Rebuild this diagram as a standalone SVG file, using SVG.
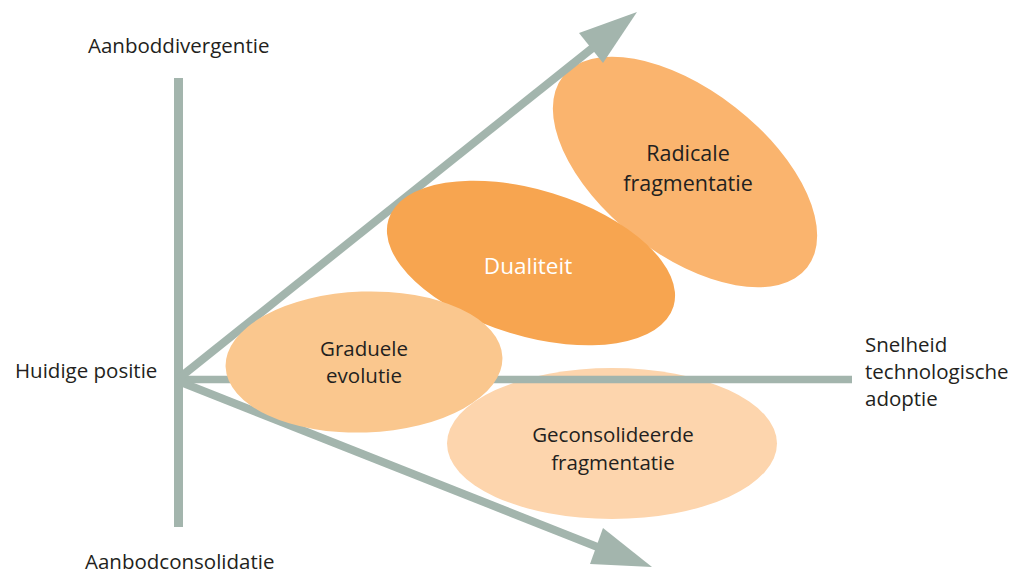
<svg xmlns="http://www.w3.org/2000/svg" width="1019" height="573" viewBox="0 0 1019 573">
<style>
.t{font-family:"Open Sans","Liberation Sans",sans-serif;font-size:20.5px;font-weight:500;fill:#231F20}
.c{text-anchor:middle}
.ax{stroke:#A3B5AD;fill:none}
.ah{fill:#A3B5AD}
</style>
<rect width="1019" height="573" fill="#FFFFFF"/>
<g id="node-radicale">
<ellipse cx="685" cy="172" rx="155" ry="82" transform="rotate(38 685 172)" fill="#FAB46E"/>
</g>
<g id="node-geconsolideerde">
<ellipse cx="612" cy="443.5" rx="165" ry="75.5" fill="#FDD5AD"/>
</g>
<g id="connectors">
<line class="ax" x1="178.5" y1="78" x2="178.5" y2="527" stroke-width="9"/>
<line class="ax" x1="178" y1="379.5" x2="852" y2="379.5" stroke-width="7.5"/>
<line class="ax" x1="178" y1="379" x2="595" y2="46" stroke-width="8"/>
<polygon class="ah" points="637,12 579,33 603,63"/>
<line class="ax" x1="178" y1="381" x2="600" y2="548" stroke-width="8"/>
<polygon class="ah" points="652,567 603,528 590,564"/>
</g>
<g id="node-dualiteit">
<ellipse cx="531" cy="263" rx="149" ry="73" transform="rotate(17 531 263)" fill="#F7A550"/>
<text class="t c" x="528" y="274" style="font-size:22.5px;fill:#FFFFFF">Dualiteit</text>
</g>
<g id="node-graduele">
<ellipse cx="364" cy="362" rx="138.5" ry="70.5" transform="rotate(-2 364 362)" fill="#FAC78E"/>
<text class="t c" x="364" y="356">Graduele</text>
<text class="t c" x="364" y="383">evolutie</text>
</g>
<g id="label-radicale">
<text class="t c" x="688" y="161" style="font-size:21.5px">Radicale</text>
<text class="t c" x="688" y="191" style="font-size:21.5px">fragmentatie</text>
</g>
<g id="label-geconsolideerde">
<text class="t c" x="613" y="442">Geconsolideerde</text>
<text class="t c" x="613" y="470">fragmentatie</text>
</g>
<g id="axis-labels">
<text class="t" x="88" y="53">Aanboddivergentie</text>
<text class="t" x="15" y="378">Huidige positie</text>
<text class="t" x="865" y="352">Snelheid</text>
<text class="t" x="865" y="379">technologische</text>
<text class="t" x="865" y="406">adoptie</text>
<text class="t" x="85" y="569">Aanbodconsolidatie</text>
</g>
</svg>
